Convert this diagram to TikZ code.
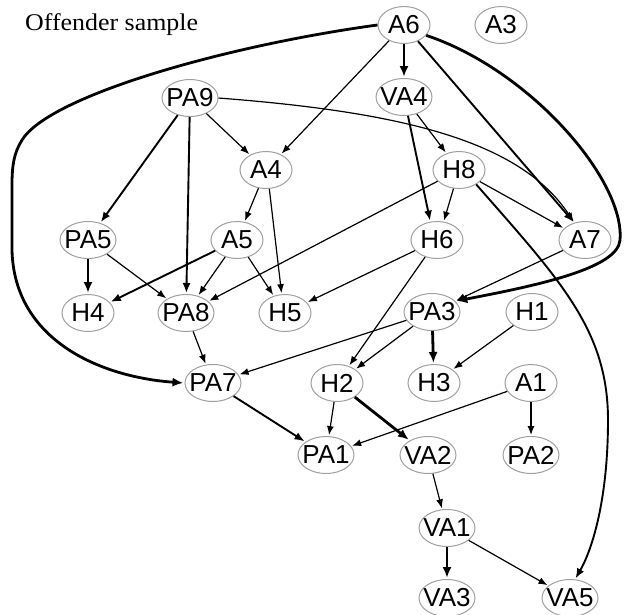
\documentclass[tikz,border=0pt]{standalone}
\usepackage{fontspec}
\setmainfont{Liberation Serif}
\newfontfamily\arialf{Liberation Sans}
\usetikzlibrary{shapes.geometric,arrows.meta}
\newcommand\lbl[1]{\makebox[0pt]{#1}}
\begin{document}
\begin{tikzpicture}[x=1pt,y=-1pt,
  v/.style={ellipse,draw=gray!75,line width=1pt,inner sep=0pt,minimum width=52pt,minimum height=37pt,font=\arialf\fontsize{26}{26}\selectfont},
  vw/.style={v,minimum width=56pt},
  e/.style={line width=1.2pt,-{Latex[length=9pt,width=7pt]},shorten >=1pt},
  em/.style={line width=1.9pt,-{Latex[length=10pt,width=8pt]},shorten >=1pt},
  et/.style={line width=2.8pt,-{Latex[length=11pt,width=9pt]},shorten >=1pt}]
\useasboundingbox (0,0) rectangle (627,614);
\node[anchor=base west,font=\fontsize{24}{24}\selectfont,inner sep=0pt] (title) at (25,30) {\scalebox{1.08}[1]{Offender sample}};
% nodes
\node[v]  (A6)  at (404,25)  {\lbl{A6}};
\node[v]  (A3)  at (501,25)  {\lbl{A3}};
\node[vw] (PA9) at (190,98)  {\lbl{PA9}};
\node[vw] (VA4) at (404,97)  {\lbl{VA4}};
\node[v]  (A4)  at (266,170) {\lbl{A4}};
\node[v]  (H8)  at (459,170) {\lbl{H8}};
\node[vw] (PA5) at (88,240)  {\lbl{PA5}};
\node[v]  (A5)  at (237,240) {\lbl{A5}};
\node[v]  (H6)  at (437,240) {\lbl{H6}};
\node[v]  (A7)  at (585,240) {\lbl{A7}};
\node[v]  (H4)  at (88,313)  {\lbl{H4}};
\node[vw] (PA8) at (186,313) {\lbl{PA8}};
\node[v]  (H5)  at (285,313) {\lbl{H5}};
\node[vw] (PA3) at (432,312) {\lbl{PA3}};
\node[v]  (H1)  at (532,312) {\lbl{H1}};
\node[vw] (PA7) at (213,383) {\lbl{PA7}};
\node[v]  (H2)  at (337,383) {\lbl{H2}};
\node[v]  (H3)  at (434,383) {\lbl{H3}};
\node[v]  (A1)  at (531,383) {\lbl{A1}};
\node[vw] (PA1) at (326,455) {\lbl{PA1}};
\node[vw] (VA2) at (428,455) {\lbl{VA2}};
\node[vw] (PA2) at (531,455) {\lbl{PA2}};
\node[vw] (VA1) at (447,528) {\lbl{VA1}};
\node[vw] (VA3) at (447,598) {\lbl{VA3}};
\node[vw] (VA5) at (570,598) {\lbl{VA5}};
% edges from A6
\draw[et] (A6) -- (VA4);
\draw[e] (A6) -- (A4);
\draw[em] (A6) -- (A7.122);
\draw[et] (A6.-25) .. controls (530,70) and (625,180) .. (620,240)
  .. controls (618,268) and (540,285) .. (PA3.25);
\draw[et] (A6.west) .. controls (230,45) and (50,95) .. (22,140)
  .. controls (14,153) and (12,165) .. (12,185) -- (12,250)
  .. controls (14,340) and (100,377) .. (PA7.west);
% PA9
\draw[em] (PA9) -- (PA5);
\draw[em] (PA9) -- (PA8);
\draw[e] (PA9) -- (A4);
\draw[e] (PA9.east) .. controls (400,112) and (520,140) .. (A7.122);
% VA4
\draw[e] (VA4) -- (H8);
\draw[em] (VA4) -- (H6.110);
% H8
\draw[e] (H8) -- (H6.70);
\draw[e] (H8) -- (A7);
\draw[e] (H8) -- (PA8);
\draw[em] (H8.-40) .. controls (560,280) and (608,330) .. (608,420)
  .. controls (608,500) and (592,550) .. (VA5.75);
% A4
\draw[e] (A4) -- (A5);
\draw[e] (A4.-80) -- (H5.100);
% A5, PA5
\draw[em] (A5) -- (H4);
\draw[e] (A5) -- (PA8);
\draw[e] (A5) -- (H5);
\draw[et] (PA5) -- (H4);
\draw[e] (PA5) -- (PA8);
% H6
\draw[e] (H6) -- (H5);
\draw[e] (H6) -- (H2);
% A7, PA3, H1
\draw[e] (A7) -- (PA3);
\draw[e] (PA3) -- (PA7);
\draw[e] (PA3) -- (H2);
\draw[et] (PA3) -- (H3);
\draw[e] (H1) -- (H3);
% lower
\draw[e] (PA8) -- (PA7);
\draw[em] (PA7) -- (PA1);
\draw[e] (H2) -- (PA1);
\draw[et] (H2) -- (VA2);
\draw[e] (A1) -- (PA1);
\draw[e] (A1) -- (PA2);
\draw[e] (VA2) -- (VA1);
\draw[et] (VA1) -- (VA3);
\draw[e] (VA1) -- (VA5);
\end{tikzpicture}
\end{document}
